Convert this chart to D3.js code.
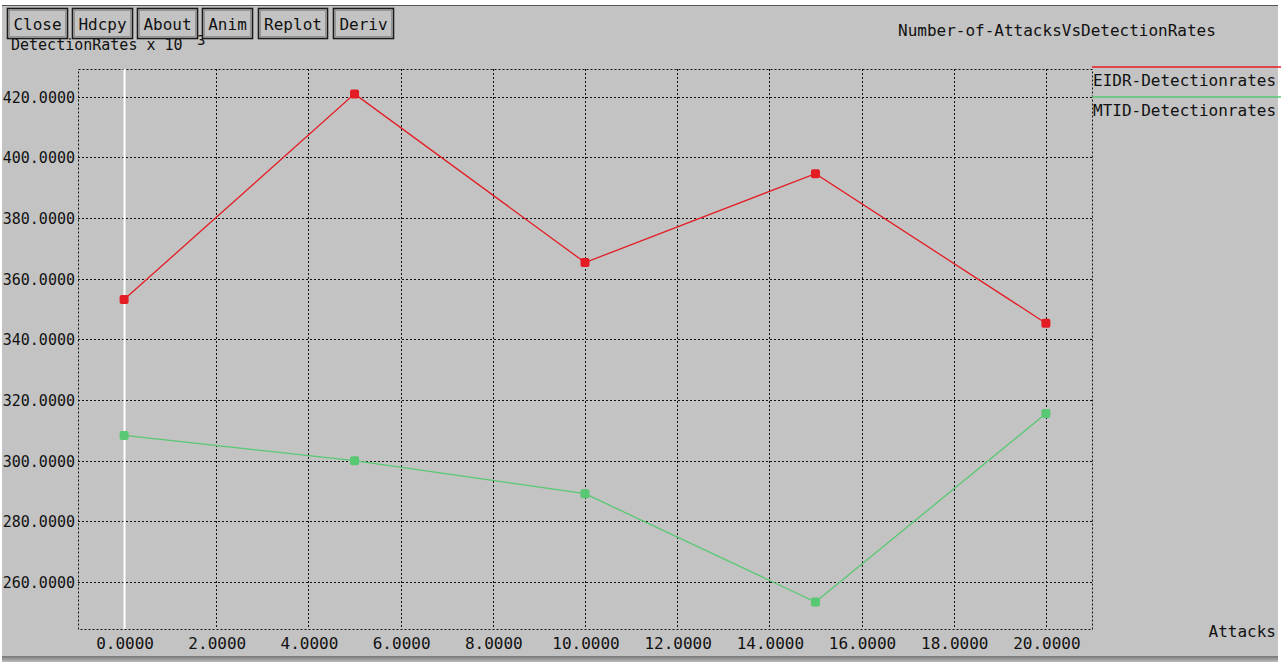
<!DOCTYPE html>
<html>
<head>
<meta charset="utf-8">
<script src="https://cdn.jsdelivr.net/npm/d3@7"></script>
<style>
  html, body { margin: 0; padding: 0; background: #ffffff; }
  svg { display: block; }
  text { font-family: "DejaVu Sans Mono", "Liberation Mono", monospace; fill: #111; }
</style>
</head>
<body>
<svg id="chart" width="1281" height="665"></svg>
<script>
// ---- data ----
const attacks = [0, 5, 10, 15, 20];
const eidrRates = [353.1, 420.9, 365.3, 394.6, 345.3];
const mtidRates = [308.3, 300.0, 289.1, 253.4, 315.5];
const xTicks = [0, 2, 4, 6, 8, 10, 12, 14, 16, 18, 20];
const yTicks = [260, 280, 300, 320, 340, 360, 380, 400, 420];
const seriesNames = ["EIDR-Detectionrates", "MTID-Detectionrates"];
const buttonLabels = ["Close", "Hdcpy", "About", "Anim", "Replot", "Deriv"];
const titleText = "Number-of-AttacksVsDetectionRates";
const yLabelText = "DetectionRates x 10";
const yLabelExp = "3";
const xLabelText = "Attacks";

// ---- layout ----
const W = 1281, H = 665;
const plot = { left: 78, right: 1092, top: 69, bottom: 629 };
const svg = d3.select("#chart");

// window background
svg.append("rect").attr("x", 0).attr("y", 0).attr("width", W).attr("height", H).attr("fill", "#ffffff");
svg.append("rect").attr("x", 2).attr("y", 5).attr("width", W - 5).attr("height", 652).attr("fill", "#c3c3c3");
svg.append("line").attr("x1", 2).attr("x2", W - 3).attr("y1", 5.5).attr("y2", 5.5).attr("stroke", "#555").attr("stroke-width", 1);
const grad = svg.append("defs").append("linearGradient").attr("id", "shadow").attr("x1", 0).attr("x2", 0).attr("y1", 0).attr("y2", 1);
grad.append("stop").attr("offset", "0%").attr("stop-color", "#777");
grad.append("stop").attr("offset", "100%").attr("stop-color", "#bbb");
svg.append("rect").attr("x", 2).attr("y", 656).attr("width", W - 5).attr("height", 6).attr("fill", "url(#shadow)");

// scales
const x = d3.scaleLinear().domain([-1, 21]).range([plot.left, plot.right]);
const y = d3.scaleLinear().domain([244.5, 429.1]).range([plot.bottom, plot.top]);

// y axis label (drawn before buttons, which overlap it)
svg.append("text").attr("x", 11).attr("y", 50).attr("font-size", 15).text(yLabelText);
svg.append("text").attr("x", 197).attr("y", 45).attr("font-size", 14).text(yLabelExp);

// buttons
const btnX = [7, 72, 137, 202, 258, 333];
const btnW = [60, 60, 60, 50, 69, 60];
const btns = svg.append("g");
buttonLabels.forEach((lbl, i) => {
  btns.append("rect").attr("x", btnX[i] + 0.5).attr("y", 8.5).attr("width", btnW[i]).attr("height", 30)
    .attr("fill", "#c3c3c3").attr("stroke", "#1a1a1a").attr("stroke-width", 1.6);
  btns.append("rect").attr("x", btnX[i] + 2.5).attr("y", 10.5).attr("width", btnW[i] - 4).attr("height", 26)
    .attr("fill", "none").attr("stroke", "#8a8a8a").attr("stroke-width", 0.8);
  btns.append("text").attr("x", btnX[i] + btnW[i] / 2 + 0.5).attr("y", 30).attr("text-anchor", "middle")
    .attr("font-size", 16).text(lbl);
});

// title
svg.append("text").attr("x", 898).attr("y", 36).attr("font-size", 16).text(titleText);

// grid
const grid = svg.append("g").attr("stroke", "#111").attr("stroke-width", 1).attr("stroke-dasharray", "2,2").attr("fill", "none");
xTicks.forEach(t => {
  grid.append("line").attr("x1", Math.round(x(t)) + 0.5).attr("x2", Math.round(x(t)) + 0.5)
    .attr("y1", plot.top).attr("y2", plot.bottom);
});
yTicks.forEach(t => {
  grid.append("line").attr("x1", plot.left).attr("x2", plot.right)
    .attr("y1", Math.round(y(t)) + 0.5).attr("y2", Math.round(y(t)) + 0.5);
});
grid.append("rect").attr("x", plot.left + 0.5).attr("y", plot.top + 0.5)
  .attr("width", plot.right - plot.left).attr("height", plot.bottom - plot.top);

// zero axis (white)
svg.append("line").attr("x1", Math.round(x(0)) + 0.5).attr("x2", Math.round(x(0)) + 0.5)
  .attr("y1", plot.top).attr("y2", plot.bottom).attr("stroke", "#ffffff").attr("stroke-width", 2);

// tick labels
const fmt = d3.format(".4f");
svg.append("g").selectAll("text").data(yTicks).join("text")
  .attr("x", 75).attr("y", d => y(d) + 6).attr("text-anchor", "end").attr("font-size", 15)
  .text(d => fmt(d));
svg.append("g").selectAll("text").data(xTicks).join("text")
  .attr("x", d => x(d) + 1).attr("y", 649).attr("text-anchor", "middle").attr("font-size", 16)
  .text(d => fmt(d));

// x label
svg.append("text").attr("x", 1276).attr("y", 637).attr("text-anchor", "end").attr("font-size", 16).text(xLabelText);

// series
const colors = ["#e41c24", "#58c872"];
const seriesData = [eidrRates, mtidRates];
const line = d3.line().x(d => x(d[0])).y(d => y(d[1]));
seriesData.forEach((vals, si) => {
  const pts = attacks.map((a, i) => [a, vals[i]]);
  svg.append("path").datum(pts).attr("d", line).attr("fill", "none")
    .attr("stroke", colors[si]).attr("stroke-width", 1.3);
  svg.append("g").selectAll("rect").data(pts).join("rect")
    .attr("x", d => x(d[0]) - 4.5).attr("y", d => y(d[1]) - 4.5)
    .attr("width", 9).attr("height", 9).attr("rx", 2)
    .attr("fill", colors[si]);
});

// legend
const legY = [67, 97];
seriesNames.forEach((name, i) => {
  svg.append("line").attr("x1", 1092).attr("x2", 1281).attr("y1", legY[i]).attr("y2", legY[i])
    .attr("stroke", colors[i]).attr("stroke-width", 1.5);
  svg.append("text").attr("x", 1093).attr("y", legY[i] + 19).attr("font-size", 16).text(name);
});
</script>
</body>
</html>
